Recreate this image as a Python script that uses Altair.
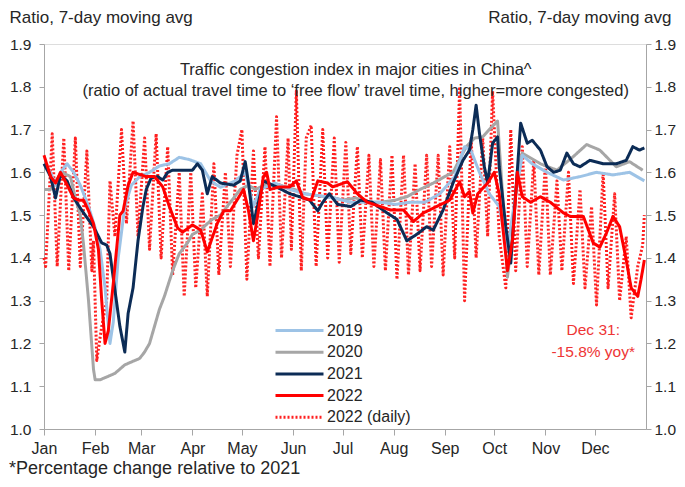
import json
import altair as alt
import pandas as pd

FONT = "Liberation Sans, Arial, sans-serif"
TXT = "#262626"
AXC = "#a6a6a6"

months = ["Jan", "Feb", "Mar", "Apr", "May", "Jun", "Jul", "Aug", "Sep", "Oct", "Nov", "Dec"]
month_start = [0, 31, 59, 90, 120, 151, 181, 212, 243, 273, 304, 334]
y_ticks = [1.0, 1.1, 1.2, 1.3, 1.4, 1.5, 1.6, 1.7, 1.8, 1.9]

series_names = ["2019", "2020", "2021", "2022", "2022 (daily)"]
series_colors = ["#9dc3e6", "#a6a6a6", "#0c2c56", "#ff0000", "#ff2020"]
series_widths = [3, 3, 3.5, 4, 1.3]
series_dash = [[1, 0], [1, 0], [1, 0], [1, 0], [2, 2]]

# ---- 2019 (7-day moving average) ----
d2019_day = [0, 4, 7, 10, 14, 18, 22, 27, 31, 34, 37, 40, 42, 45, 49, 53, 58, 64, 70, 76, 82, 88,
             95, 101, 107, 116, 122, 127, 131, 140, 149, 158, 167, 176, 186, 195, 204, 213, 222,
             231, 240, 249, 255, 259, 264, 270, 276, 281, 286, 290, 296, 305, 315, 325, 335, 345,
             355, 364]
d2019_val = [1.62, 1.60, 1.57, 1.60, 1.62, 1.60, 1.57, 1.52, 1.47, 1.42, 1.33, 1.20, 1.25, 1.40,
             1.52, 1.57, 1.59, 1.60, 1.615, 1.62, 1.635, 1.63, 1.62, 1.58, 1.565, 1.58, 1.60, 1.52,
             1.56, 1.575, 1.56, 1.55, 1.545, 1.54, 1.53, 1.53, 1.53, 1.525, 1.53, 1.53, 1.55, 1.59,
             1.66, 1.65, 1.60, 1.55, 1.52, 1.42, 1.55, 1.64, 1.62, 1.60, 1.582, 1.59, 1.60, 1.594,
             1.60, 1.58]

# ---- 2020 ----
d2020_day = [0, 4, 7, 11, 16, 19, 22, 24, 27, 30, 31, 34, 37, 40, 43, 46, 49, 52, 55, 58, 61, 64,
             67, 70, 73, 78, 82, 87, 90, 95, 99, 102, 107, 113, 119, 124, 128, 134, 143, 152, 158,
             167, 176, 181, 189, 198, 204, 213, 220, 228, 236, 243, 248, 256, 261, 266, 270, 275,
             278, 281, 284, 287, 290, 301, 311, 321, 329, 337, 347, 355, 363]
d2020_val = [1.56, 1.56, 1.58, 1.60, 1.59, 1.54, 1.50, 1.43, 1.30, 1.14, 1.115, 1.115, 1.12,
             1.125, 1.13, 1.14, 1.15, 1.155, 1.16, 1.165, 1.18, 1.20, 1.24, 1.28, 1.31, 1.37, 1.41,
             1.435, 1.455, 1.465, 1.48, 1.49, 1.50, 1.53, 1.56, 1.57, 1.56, 1.57, 1.57, 1.56, 1.55,
             1.545, 1.54, 1.535, 1.54, 1.53, 1.53, 1.535, 1.543, 1.56, 1.575, 1.59, 1.60, 1.66,
             1.68, 1.683, 1.70, 1.72, 1.55, 1.355, 1.45, 1.60, 1.645, 1.62, 1.605, 1.637, 1.665,
             1.652, 1.613, 1.625, 1.605]

# ---- 2021 ----
d2021_day = [0, 4, 7, 10, 14, 18, 24, 30, 35, 38, 40, 43, 46, 49, 51, 54, 57, 60, 62, 65, 69, 72,
             75, 78, 84, 90, 93, 96, 99, 102, 107, 115, 119, 122, 124, 127, 130, 133, 141, 149,
             155, 161, 166, 169, 173, 178, 186, 192, 199, 208, 214, 220, 226, 232, 236, 242, 248,
             254, 258, 260, 262, 264, 267, 269, 272, 275, 276, 280, 283, 286, 289, 293, 296, 301,
             305, 309, 313, 317, 321, 325, 331, 339, 347, 353, 357, 361, 364]
d2021_val = [1.62, 1.59, 1.54, 1.594, 1.58, 1.54, 1.505, 1.473, 1.435, 1.43, 1.41, 1.325, 1.24,
             1.18, 1.27, 1.33, 1.44, 1.52, 1.56, 1.587, 1.59, 1.582, 1.60, 1.605, 1.605, 1.605,
             1.62, 1.605, 1.55, 1.59, 1.575, 1.57, 1.58, 1.625, 1.575, 1.48, 1.53, 1.58, 1.566,
             1.55, 1.543, 1.535, 1.51, 1.53, 1.55, 1.525, 1.52, 1.535, 1.53, 1.505, 1.49, 1.44,
             1.455, 1.473, 1.465, 1.512, 1.575, 1.628, 1.652, 1.70, 1.757, 1.692, 1.613, 1.575,
             1.668, 1.683, 1.613, 1.473, 1.388, 1.55, 1.715, 1.668, 1.675, 1.652, 1.613, 1.60,
             1.605, 1.645, 1.62, 1.613, 1.628, 1.62, 1.62, 1.628, 1.66, 1.652, 1.657]

# ---- 2022 (7-day moving average) ----
d2022_day = [0, 4, 7, 10, 13, 18, 21, 24, 27, 30, 33, 35, 37, 39, 42, 45, 46, 48, 51, 54, 58, 62,
             67, 72, 76, 81, 84, 90, 95, 99, 105, 109, 113, 117, 121, 124, 127, 130, 133, 135,
             137, 143, 149, 153, 157, 162, 166, 172, 175, 184, 190, 196, 204, 210, 218, 224, 230,
             238, 246, 252, 255, 258, 260, 263, 269, 273, 276, 281, 284, 287, 290, 295, 301, 307,
             315, 319, 327, 333, 337, 341, 345, 349, 353, 356, 360, 362, 364]
d2022_val = [1.64, 1.59, 1.575, 1.60, 1.578, 1.54, 1.535, 1.535, 1.51, 1.48, 1.42, 1.30, 1.20,
             1.23, 1.34, 1.46, 1.50, 1.51, 1.57, 1.60, 1.595, 1.59, 1.59, 1.566, 1.52, 1.47, 1.46,
             1.477, 1.465, 1.414, 1.48, 1.51, 1.51, 1.535, 1.56, 1.51, 1.44, 1.51, 1.59, 1.60,
             1.56, 1.566, 1.566, 1.58, 1.54, 1.535, 1.58, 1.575, 1.566, 1.578, 1.55, 1.53, 1.52,
             1.512, 1.512, 1.485, 1.505, 1.52, 1.535, 1.578, 1.543, 1.555, 1.505, 1.55, 1.575,
             1.60, 1.55, 1.37, 1.44, 1.60, 1.543, 1.53, 1.543, 1.53, 1.505, 1.497, 1.497, 1.435,
             1.425, 1.458, 1.497, 1.473, 1.395, 1.33, 1.31, 1.35, 1.395]

# ---- 2022 daily (weekly highs and weekend lows) ----
daily_day = [0, 1, 5, 8, 12, 15, 19, 22, 26, 29, 30, 32, 35, 38, 40, 43, 47, 50, 54, 57, 61, 64,
             68, 71, 75, 78, 82, 85, 89, 92, 96, 99, 103, 106, 110, 113, 117, 120, 123, 127, 130,
             134, 137, 141, 144, 148, 150, 153, 156, 159, 162, 165, 169, 172, 176, 179, 183, 186,
             190, 193, 197, 200, 204, 207, 211, 214, 218, 221, 225, 228, 232, 235, 239, 242, 246,
             249, 252, 255, 259, 262, 266, 269, 272, 276, 280, 283, 286, 290, 293, 297, 300, 304,
             307, 311, 314, 318, 321, 325, 328, 332, 335, 339, 342, 346, 349, 353, 356, 360, 363,
             364]
daily_val = [1.40, 1.38, 1.69, 1.38, 1.68, 1.37, 1.68, 1.38, 1.65, 1.37, 1.44, 1.16, 1.24, 1.30,
             1.58, 1.45, 1.70, 1.48, 1.72, 1.45, 1.68, 1.42, 1.69, 1.40, 1.66, 1.36, 1.60, 1.31,
             1.60, 1.33, 1.55, 1.31, 1.62, 1.36, 1.60, 1.38, 1.64, 1.70, 1.35, 1.65, 1.40, 1.66,
             1.38, 1.73, 1.40, 1.68, 1.42, 1.79, 1.37, 1.68, 1.71, 1.38, 1.70, 1.40, 1.68, 1.39,
             1.67, 1.41, 1.66, 1.40, 1.64, 1.38, 1.63, 1.37, 1.64, 1.35, 1.64, 1.36, 1.62, 1.37,
             1.64, 1.38, 1.64, 1.36, 1.66, 1.40, 1.80, 1.30, 1.68, 1.40, 1.68, 1.45, 1.79, 1.45,
             1.33, 1.70, 1.37, 1.66, 1.38, 1.63, 1.36, 1.62, 1.36, 1.58, 1.37, 1.60, 1.34, 1.56,
             1.33, 1.52, 1.29, 1.60, 1.33, 1.55, 1.30, 1.45, 1.26, 1.38, 1.43, 1.50]

# ---- text annotations (in data coordinates) ----
title_lines = ["Traffic congestion index in major cities in China^",
               "(ratio of actual travel time to \u2018free flow\u2019 travel time, higher=more congested)"]
title_day = [189, 189]
title_val = [1.84, 1.79]
note_lines = ["Dec 31:", "-15.8% yoy*"]
note_day = [333, 333]
note_val = [1.232, 1.18]
footnote = "*Percentage change relative to 2021"

W, H = 602, 385

rows = []
for name, days, vals in [("2019", d2019_day, d2019_val), ("2020", d2020_day, d2020_val),
                         ("2021", d2021_day, d2021_val), ("2022", d2022_day, d2022_val),
                         ("2022 (daily)", daily_day, daily_val)]:
    for d, v in zip(days, vals):
        rows.append({"series": name, "day": d, "value": v})
df = pd.DataFrame(rows)

xscale = alt.Scale(domain=[0, 365], nice=False, zero=False)
yscale = alt.Scale(domain=[1.0, 1.9], nice=False, zero=False)

label_expr = "{}[indexof({}, datum.value)]".format(json.dumps(months), json.dumps(month_start))

x_enc = alt.X("day:Q", scale=xscale,
              axis=alt.Axis(values=month_start, labelExpr=label_expr, tickSize=6, tickColor=AXC,
                            grid=False, title=None, domainColor=AXC, labelFont=FONT,
                            labelFontSize=16, labelColor=TXT, labelPadding=5,
                            labelFlush=False, labelOverlap=False))
y_left = alt.Y("value:Q", scale=yscale,
               axis=alt.Axis(values=y_ticks, format=".1f", grid=False, tickSize=5, tickColor=AXC,
                             domainColor=AXC, labelFont=FONT, labelFontSize=15.5, labelColor=TXT,
                             labelPadding=8, title="Ratio, 7-day moving avg", titleAngle=0,
                             titleX=-35, titleY=-27, titleAlign="left", titleBaseline="middle",
                             titleFont=FONT, titleFontSize=17, titleFontWeight="normal",
                             titleColor=TXT))

LEG = dict(title=None, orient="none", legendX=230, legendY=277, symbolType="M-1,0H5",
           symbolSize=256, labelFont=FONT, labelFontSize=16, labelColor=TXT, padding=0,
           rowPadding=3.7, labelOffset=34)
color = alt.Color("series:N", scale=alt.Scale(domain=series_names, range=series_colors),
                  legend=alt.Legend(**LEG))
swidth = alt.StrokeWidth("series:N", scale=alt.Scale(domain=series_names, range=series_widths),
                         legend=alt.Legend(**LEG))
sdash = alt.StrokeDash("series:N", scale=alt.Scale(domain=series_names, range=series_dash),
                       legend=alt.Legend(**LEG))

base = alt.Chart(df)
draw_order = ["2022 (daily)", "2020", "2019", "2021", "2022"]
line_layers = [
    base.transform_filter(alt.datum.series == s).mark_line(strokeJoin="round").encode(
        x=x_enc, y=y_left, color=color, strokeWidth=swidth, strokeDash=sdash)
    for s in draw_order
]

title_df = pd.DataFrame({"t": title_lines, "day": title_day, "value": title_val})
title_text = alt.Chart(title_df).mark_text(font=FONT, fontSize=16.5, color=TXT).encode(
    x=alt.X("day:Q", scale=xscale), y=alt.Y("value:Q", scale=yscale), text="t:N")

note_df = pd.DataFrame({"t": note_lines, "day": note_day, "value": note_val})
note_text = alt.Chart(note_df).mark_text(font=FONT, fontSize=15.5, color="#ee3535").encode(
    x=alt.X("day:Q", scale=xscale), y=alt.Y("value:Q", scale=yscale), text="t:N")

foot_df = pd.DataFrame({"t": [footnote]})
foot_text = alt.Chart(foot_df).mark_text(font=FONT, fontSize=18, color=TXT, align="left",
                                         baseline="alphabetic").encode(
    x=alt.value(-35), y=alt.value(H + 45), text="t:N")

left = alt.layer(*line_layers, title_text, note_text, foot_text)

right_axis = alt.Chart(df).transform_filter(alt.datum.series == "2022").mark_line(opacity=0).encode(
    x=alt.X("day:Q", scale=xscale),
    y=alt.Y("value:Q", scale=yscale,
            axis=alt.Axis(orient="right", values=y_ticks, format=".1f", grid=False, tickSize=5,
                          tickColor=AXC, domainColor=AXC, labelFont=FONT, labelFontSize=15.5,
                          labelColor=TXT, labelPadding=3, title="Ratio, 7-day moving avg",
                          titleAngle=0, titleX=25, titleY=-27, titleAlign="right",
                          titleBaseline="middle", titleFont=FONT, titleFontSize=17,
                          titleFontWeight="normal", titleColor=TXT)))

chart = alt.layer(left, right_axis).resolve_scale(y="independent").properties(
    width=W, height=H,
    padding={"left": 36, "top": 36, "right": 31, "bottom": 50},
    autosize=alt.AutoSizeParams(type="none"),
).configure_view(stroke=AXC, strokeWidth=1).configure(background="white")

chart.save("out.html", embed_options={"renderer": "svg", "actions": False})
